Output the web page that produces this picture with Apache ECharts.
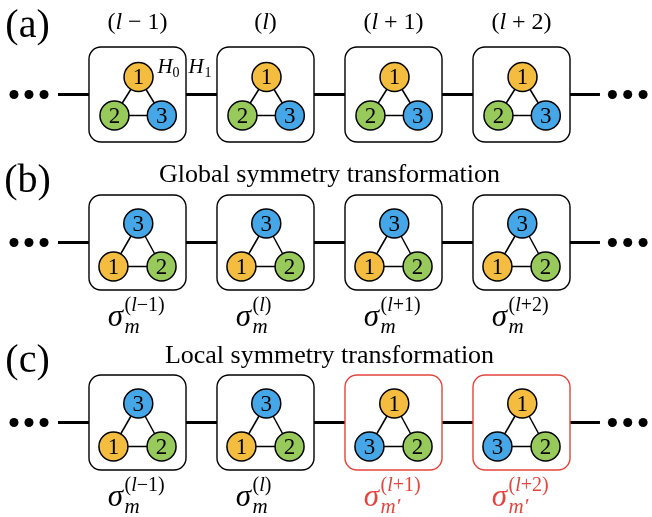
<!DOCTYPE html>
<html><head><meta charset="utf-8">
<script src="https://cdn.jsdelivr.net/npm/echarts@6/dist/echarts.min.js"></script>
<style>html,body{margin:0;padding:0;background:#fff}#c{width:652px;height:517px}</style>
</head><body><div id="c"></div>
<script>
// ---- data ----
const sites = [0, 1, 2, 3];
const siteLabelOffsets = [' − 1', '', ' + 1', ' + 2'];
const supOffsets = ['−1', '', '+1', '+2'];
const rowLabels = ['(a)', '(b)', '(c)'];
const rowTitles = ['', 'Global symmetry transformation', 'Local symmetry transformation'];
const rowY = [94.5, 242.5, 422.5];
const rowLabelY = [26, 181, 361];
const titleY = [0, 175, 356];
const siteLabelY = [23];
const nodeOrder = [
  [[1, 2, 3], [1, 2, 3], [1, 2, 3], [1, 2, 3]],
  [[3, 1, 2], [3, 1, 2], [3, 1, 2], [3, 1, 2]],
  [[3, 1, 2], [3, 1, 2], [1, 3, 2], [1, 3, 2]]
];
const transformed = [[0, 0, 0, 0], [0, 0, 0, 0], [0, 0, 1, 1]];
const hasSigma = [false, true, true];
const chainX = [-0.621, 3.613];
const leftDots = [-0.965, -0.848, -0.73];
const rightDots = [3.71, 3.83, 3.95];
// triangle node offsets [dx (site units), dy] per row: top, bottom-left, bottom-right
const triOffsets = [
  [[0.008, -17.5], [-0.18, 21], [0.19, 21]],
  [[0.006, -19], [-0.188, 24], [0.188, 24]],
  [[0.006, -19], [-0.188, 24], [0.188, 24]]
];

// ---- style ----
const COLORS = {1: '#F4BD3F', 2: '#97CA5B', 3: '#45A7E8'};
const RED = '#E5443C';
const INK = '#000';
const BOX_W = 0.758, BOX_H = 95;
const SERIF = '"Liberation Serif", "DejaVu Serif", serif';

const cellData = [];
rowY.forEach((_, r) => sites.forEach(s => cellData.push([s, r])));

function renderCell(params, api) {
  const s = api.value(0), r = api.value(1);
  const y = rowY[r];
  const c = api.coord([s, y]);
  const sz = api.size([BOX_W, BOX_H]);
  const red = transformed[r][s];
  const ch = [];
  ch.push({type: 'rect', shape: {x: c[0] - sz[0] / 2, y: c[1] - sz[1] / 2, width: sz[0], height: sz[1], r: 12},
    style: {fill: '#fff', stroke: red ? RED : INK, lineWidth: 1.4}});
  const pts = triOffsets[r].map(o => api.coord([s + o[0], y + o[1]]));
  [[0, 1], [0, 2], [1, 2]].forEach(([a, b]) => ch.push({type: 'line',
    shape: {x1: pts[a][0], y1: pts[a][1], x2: pts[b][0], y2: pts[b][1]}, style: {stroke: INK, lineWidth: 1.5}}));
  nodeOrder[r][s].forEach((n, k) => {
    ch.push({type: 'circle', shape: {cx: pts[k][0], cy: pts[k][1], r: 14.5},
      style: {fill: COLORS[n], stroke: INK, lineWidth: 1.5}});
    ch.push({type: 'text', style: {text: String(n), x: pts[k][0], y: pts[k][1] + 1, align: 'center',
      verticalAlign: 'middle', font: '23px ' + SERIF, fill: INK}});
  });
  if (hasSigma[r]) {
    const a = api.coord([s, y + 78]);
    const col = red ? RED : INK;
    ch.push({type: 'text', style: {text: 'σ', x: a[0] - 22, y: a[1] - 3, align: 'center', verticalAlign: 'middle',
      font: 'italic 31px ' + SERIF, fill: col}});
    ch.push({type: 'text', style: {text: '{p|(}{i|l}{p|' + supOffsets[s] + ')}', x: a[0] - 13, y: a[1] - 15,
      align: 'left', verticalAlign: 'middle', fill: col,
      rich: {p: {font: '20px ' + SERIF, fill: col}, i: {font: 'italic 20px ' + SERIF, fill: col}}}});
    ch.push({type: 'text', style: {text: red ? 'm′' : 'm', x: a[0] - 13, y: a[1] + 7, align: 'left',
      verticalAlign: 'middle', font: 'italic 21px ' + SERIF, fill: col}});
  }
  if (r === 0 && s === 0) {
    const h = api.coord([s, y - 27]);
    const x0 = c[0] + sz[0] / 2;
    ch.push({type: 'text', style: {text: 'H', x: x0 - 21, y: h[1], align: 'center', verticalAlign: 'middle',
      font: 'italic 21px ' + SERIF, fill: INK}});
    ch.push({type: 'text', style: {text: '0', x: x0 - 10, y: h[1] + 6, align: 'center', verticalAlign: 'middle',
      font: '14px ' + SERIF, fill: INK}});
    ch.push({type: 'text', style: {text: 'H', x: x0 + 10, y: h[1], align: 'center', verticalAlign: 'middle',
      font: 'italic 21px ' + SERIF, fill: INK}});
    ch.push({type: 'text', style: {text: '1', x: x0 + 22, y: h[1] + 6, align: 'center', verticalAlign: 'middle',
      font: '14px ' + SERIF, fill: INK}});
  }
  return {type: 'group', children: ch};
}

function renderText(params, api) {
  const kind = api.value(0), i = api.value(1);
  const ch = [];
  if (kind === 0) { // row label
    const p = api.coord([-0.859, rowLabelY[i]]);
    ch.push({type: 'text', style: {text: rowLabels[i], x: p[0], y: p[1], align: 'center', verticalAlign: 'middle',
      font: '40px ' + SERIF, fill: INK}});
    if (rowTitles[i]) {
      const t = api.coord([1.5, titleY[i]]);
      ch.push({type: 'text', style: {text: rowTitles[i], x: t[0], y: t[1], align: 'center', verticalAlign: 'middle',
        font: '26px ' + SERIF, fill: INK}});
    }
  } else { // site label
    const p = api.coord([sites[i], siteLabelY[0]]);
    ch.push({type: 'text', style: {text: '{p|(}{i|l}{p|' + siteLabelOffsets[i] + ')}', x: p[0], y: p[1],
      align: 'center', verticalAlign: 'middle', fill: INK,
      rich: {p: {font: '24px ' + SERIF, fill: INK}, i: {font: 'italic 24px ' + SERIF, fill: INK}}}});
  }
  return {type: 'group', children: ch};
}

const textData = rowLabels.map((_, i) => [0, i]).concat(sites.map(i => [1, i]));

const series = [];
rowY.forEach(y => {
  series.push({type: 'line', data: chainX.map(x => [x, y]), symbol: 'none', silent: true, z: 1,
    lineStyle: {color: INK, width: 3}});
  series.push({type: 'scatter', data: leftDots.concat(rightDots).map(x => [x, y]), symbol: 'circle',
    symbolSize: 9, itemStyle: {color: INK, opacity: 1}, silent: true, z: 1});
});
series.push({type: 'custom', data: cellData, renderItem: renderCell, z: 3, silent: true});
series.push({type: 'custom', data: textData, renderItem: renderText, z: 4, silent: true});

const chart = echarts.init(document.getElementById('c'), null, {renderer: 'canvas'});
chart.setOption({
  animation: false,
  backgroundColor: '#fff',
  grid: {left: 9.5, right: 2.5, top: 0, bottom: 0},
  xAxis: {type: 'value', min: -1, max: 4, show: false},
  yAxis: {type: 'value', min: 0, max: 517, inverse: true, show: false},
  series
});
</script></body></html>
